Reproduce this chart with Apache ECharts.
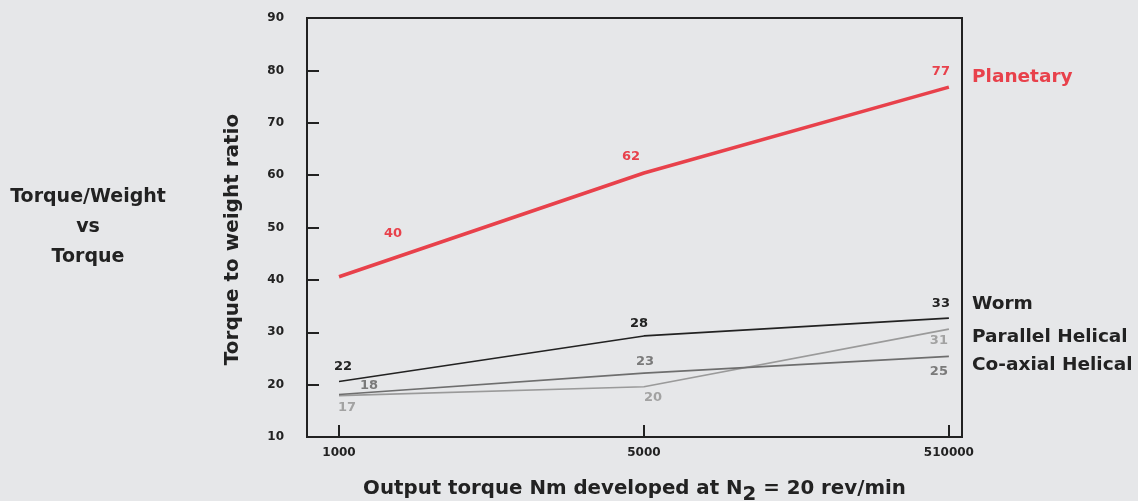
<!DOCTYPE html>
<html>
<head>
<meta charset="utf-8">
<script src="https://cdn.jsdelivr.net/npm/echarts@6/dist/echarts.min.js"></script>
<style>
html,body{margin:0;padding:0;background:#e6e7e9;}
#c{width:1138px;height:501px;}
</style>
</head>
<body>
<div id="c"></div>
<script>
const categories = ['1000', '5000', '510000'];
const seriesNames = ['Planetary', 'Worm', 'Parallel Helical', 'Co-axial Helical'];
const planetary = [40.6, 60.4, 76.8];
const worm = [20.6, 29.3, 32.7];
const parallelHelical = [17.9, 19.6, 30.6];
const coaxialHelical = [18.1, 22.2, 25.4];
const planetaryLabels = ['40', '62', '77'];
const wormLabels = ['22', '28', '33'];
const parallelLabels = ['17', '20', '31'];
const coaxialLabels = ['18', '23', '25'];
const yTicks = [10, 20, 30, 40, 50, 60, 70, 80, 90];

const FONT = 'DejaVu Sans';
const seriesDefs = [
  {name: seriesNames[0], data: planetary, labels: planetaryLabels, color: '#e8414b', width: 3.5,
   offs: [[54, -43], [-13, -16], [-8, -16]], legendY: 77},
  {name: seriesNames[1], data: worm, labels: wormLabels, color: '#222222', width: 1.6,
   offs: [[4, -15], [-5, -12], [-8, -14]], legendY: 304, labelColor: '#222222'},
  {name: seriesNames[2], data: parallelHelical, labels: parallelLabels, color: '#9a9a9a', width: 1.6,
   offs: [[8, 12], [9, 11], [-10, 12]], legendY: 337, labelColor: '#a2a2a2', legendColor: '#222222'},
  {name: seriesNames[3], data: coaxialHelical, labels: coaxialLabels, color: '#6e6e6e', width: 1.6,
   offs: [[30, -9], [1, -11], [-10, 15]], legendY: 365, labelColor: '#7a7a7a', legendColor: '#222222'}
];

const series = seriesDefs.map(d => ({
  type: 'line',
  name: d.name,
  symbol: 'circle',
  symbolSize: 0.01,
  showSymbol: true,
  clip: false,
  itemStyle: {color: d.color},
  lineStyle: {color: d.color, width: d.width},
  data: d.data.map((v, i) => ({
    value: [i, v],
    label: {
      show: true,
      formatter: () => d.labels[i],
      position: 'inside',
      offset: d.offs[i],
      color: d.labelColor || d.color,
      fontFamily: FONT,
      fontWeight: 'bold',
      fontSize: 13
    }
  })),
  z: d.name === 'Planetary' ? 3 : 2
}));

const graphics = [];
['Torque/Weight', 'vs', 'Torque'].forEach((t, i) => {
  graphics.push({type: 'text', x: 88, y: 197 + i * 30,
    style: {text: t, textAlign: 'center', textVerticalAlign: 'middle',
      fill: '#222222', font: 'bold 19px "' + FONT + '"'}});
});
seriesDefs.forEach(d => {
  graphics.push({type: 'text', x: 972, y: d.legendY,
    style: {text: d.name, textAlign: 'left', textVerticalAlign: 'middle',
      fill: d.legendColor || d.color, font: 'bold 18.5px "' + FONT + '"'}});
});

const chart = echarts.init(document.getElementById('c'));
chart.setOption({
  backgroundColor: '#e6e7e9',
  animation: false,
  grid: {left: 307, right: 176, top: 18, bottom: 64, show: true, outerBoundsMode: 'none',
    containLabel: false,
    borderColor: '#222222', borderWidth: 2, backgroundColor: 'transparent'},
  xAxis: {
    type: 'value',
    min: -0.105, max: 2.043,
    name: '{n|Output torque Nm developed at N}{s|2}{n| = 20 rev/min}',
    nameLocation: 'middle',
    nameGap: 36,
    nameTextStyle: {
      rich: {
        n: {fontFamily: FONT, fontWeight: 'bold', fontSize: 19.8, color: '#222222'},
        s: {fontFamily: FONT, fontWeight: 'bold', fontSize: 19.8, color: '#222222', padding: [12, 0, 0, 0]}
      }
    },
    axisLine: {show: true, onZero: false, lineStyle: {color: '#222222', width: 2}},
    axisTick: {show: true, inside: true, length: 12, lineStyle: {color: '#222222', width: 2},
      customValues: [0, 1, 2]},
    axisLabel: {customValues: [0, 1, 2], formatter: v => categories[Math.round(v)],
      margin: 10, fontFamily: FONT, fontWeight: 'bold', fontSize: 12, color: '#222222'},
    splitLine: {show: false}
  },
  yAxis: {
    type: 'value',
    min: yTicks[0], max: yTicks[yTicks.length - 1], interval: 10,
    name: 'Torque to weight ratio',
    nameLocation: 'middle',
    nameGap: 64,
    nameRotate: 90,
    nameTextStyle: {fontFamily: FONT, fontWeight: 'bold', fontSize: 20, color: '#222222',
      padding: [0, 24, 0, 0]},
    axisLine: {show: true, onZero: false, lineStyle: {color: '#222222', width: 2}},
    axisTick: {show: true, inside: true, length: 12, lineStyle: {color: '#222222', width: 2}},
    axisLabel: {margin: 23, fontFamily: FONT, fontWeight: 'bold', fontSize: 12, color: '#222222'},
    splitLine: {show: false}
  },
  series: series,
  graphic: graphics
});
</script>
</body>
</html>
